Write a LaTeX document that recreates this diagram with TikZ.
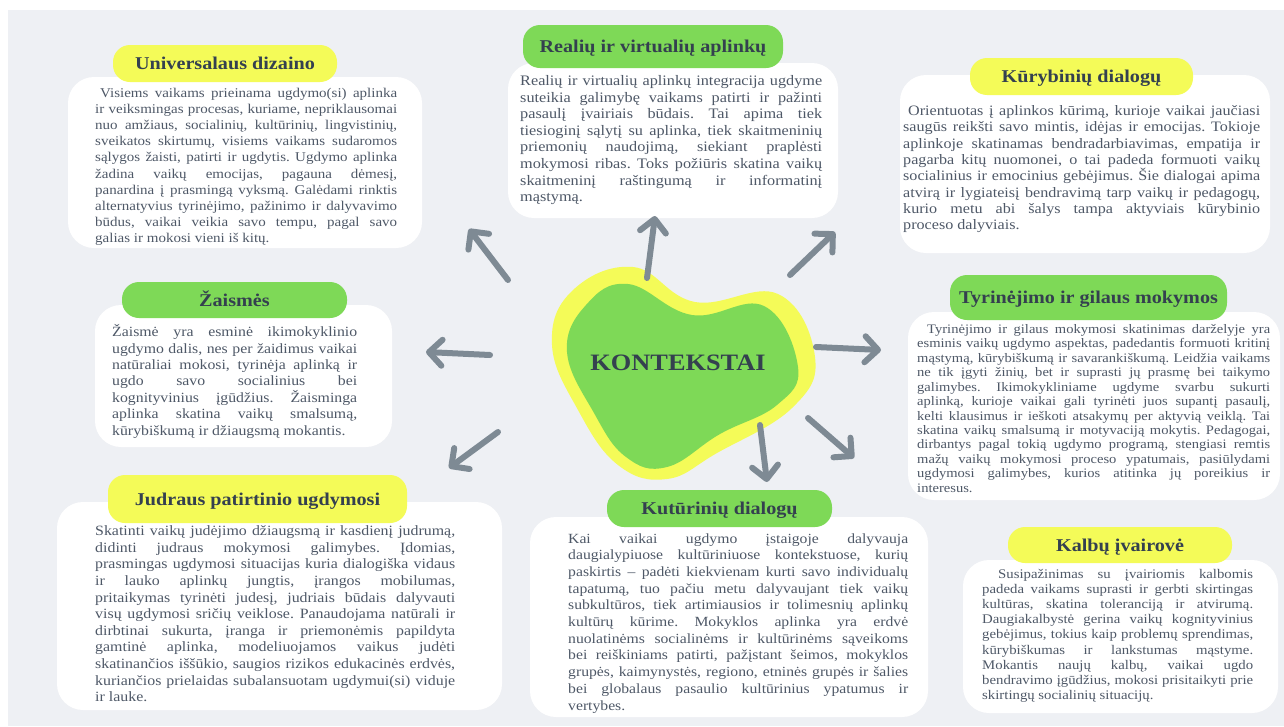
\documentclass[tikz,border=0pt]{standalone}
\usepackage{fontspec}
\setmainfont{Liberation Serif}[FakeStretch=1.12]
\usetikzlibrary{arrows.meta}
\definecolor{bgc}{HTML}{EEF0F4}
\definecolor{ylw}{HTML}{F4FB58}
\definecolor{grn}{HTML}{7ED957}
\definecolor{arrc}{HTML}{7E8A94}
\definecolor{txtc}{HTML}{4E5867}
\definecolor{ttlc}{HTML}{34404F}
\newcommand\fsz[2]{\fontsize{#1}{#2}\selectfont}
\frenchspacing
\hyphenpenalty=10000

\begin{document}
\begin{tikzpicture}[x=1pt, y=-1pt,
    panel/.style = {fill=white, rounded corners=26pt},% white text fields
     pill/.style = {rounded corners=17pt, inner sep=0pt, text=ttlc,
                    text height=12pt, text depth=0pt,
                    font=\bfseries\fsz{18}{20}},
    ypill/.style = {pill, fill=ylw},
    gpill/.style = {pill, fill=grn},
     body/.style = {anchor=base west, inner sep=0pt, text=txtc,
                    align=justify, text width=#1},
      arr/.style = {draw=arrc, line width=6pt, line cap=round,
                    -{Straight Barb[length=13pt,width=26pt,round]}},
                    ]
\useasboundingbox (0,0) rectangle (1284,726);
\fill[bgc] (8,10) rectangle (1284,726);
% white fields
\fill[panel] (68,77) rectangle (422,248);
\fill[panel] (508,63) rectangle (838,218);
\fill[panel] (900,75) rectangle (1270,253);
\fill[panel] (95,305) rectangle (392,447);
\fill[panel] (908,312) rectangle (1280,500);
\fill[panel] (57,502) rectangle (502,710);
\fill[panel] (530,517) rectangle (928,717);
\fill[panel] (963,560) rectangle (1278,713);
% titles
\node[ypill, minimum width=224pt, minimum height=37pt] (t-univ) at (225,63.5) {Universalaus dizaino};
\node[gpill, minimum width=260pt, minimum height=43pt] (t-real) at (653,46.5) {Realių ir virtualių aplinkų};
\node[ypill, minimum width=223pt, minimum height=37pt] (t-kur) at (1081.5,76.5) {Kūrybinių dialogų};
\node[gpill, minimum width=225pt, minimum height=36pt] (t-zais) at (234.5,300) {Žaismės};
\node[gpill, minimum width=277pt, minimum height=45pt] (t-tyr) at (1088.5,297.5) {Tyrinėjimo ir gilaus mokymos};
\node[ypill, minimum width=299pt, minimum height=48pt] (t-jud) at (257.5,499) {Judraus patirtinio ugdymosi};
\node[gpill, minimum width=225pt, minimum height=37pt] (t-kut) at (719.5,508.5) {Kutūrinių dialogų};
\node[ypill, minimum width=224pt, minimum height=36pt] (t-kalb) at (1120,545) {Kalbų įvairovė};
% texts
\node[body=302pt, font=\fsz{13.4}{16.2}] (b-univ) at (95,97) {\hspace*{5pt}Visiems vaikams prieinama ugdymo(si) aplinka\linebreak
ir veiksmingas procesas, kuriame, nepriklausomai\linebreak
nuo amžiaus, socialinių, kultūrinių, lingvistinių,\linebreak
sveikatos skirtumų, visiems vaikams sudaromos\linebreak
sąlygos žaisti, patirti ir ugdytis. Ugdymo aplinka\linebreak
žadina vaikų emocijas, pagauna dėmesį,\linebreak
panardina į prasmingą vyksmą. Galėdami rinktis\linebreak
alternatyvius tyrinėjimo, pažinimo ir dalyvavimo\linebreak
būdus, vaikai veikia savo tempu, pagal savo\linebreak
galias ir mokosi vieni iš kitų.};
\node[body=302pt, font=\fsz{14.5}{16.6}] (b-real) at (520,85.5) {Realių ir virtualių aplinkų integracija ugdyme\linebreak
suteikia galimybę vaikams patirti ir pažinti\linebreak
pasaulį įvairiais būdais. Tai apima tiek\linebreak
tiesioginį sąlytį su aplinka, tiek skaitmeninių\linebreak
priemonių naudojimą, siekiant praplėsti\linebreak
mokymosi ribas. Toks požiūris skatina vaikų\linebreak
skaitmeninį raštingumą ir informatinį\linebreak
mąstymą.};
\node[body=357pt, font=\fsz{14.4}{16.3}] (b-kur) at (903,115.5) {\hspace*{5pt}Orientuotas į aplinkos kūrimą, kurioje vaikai jaučiasi\linebreak
saugūs reikšti savo mintis, idėjas ir emocijas. Tokioje\linebreak
aplinkoje skatinamas bendradarbiavimas, empatija ir\linebreak
pagarba kitų nuomonei, o tai padeda formuoti vaikų\linebreak
socialinius ir emocinius gebėjimus. Šie dialogai apima\linebreak
atvirą ir lygiateisį bendravimą tarp vaikų ir pedagogų,\linebreak
kurio metu abi šalys tampa aktyviais kūrybinio\linebreak
proceso dalyviais.};
\node[body=245pt, font=\fsz{14.1}{16.4}] (b-zais) at (112,336.7) {Žaismė yra esminė ikimokyklinio\linebreak
ugdymo dalis, nes per žaidimus vaikai\linebreak
natūraliai mokosi, tyrinėja aplinką ir\linebreak
ugdo savo socialinius bei\linebreak
kognityvinius įgūdžius. Žaisminga\linebreak
aplinka skatina vaikų smalsumą,\linebreak
kūrybiškumą ir džiaugsmą mokantis.};
\node[body=353pt, font=\fsz{13.0}{14.45}] (b-tyr) at (917,333.3) {\hspace*{10pt}Tyrinėjimo ir gilaus mokymosi skatinimas darželyje yra\linebreak
esminis vaikų ugdymo aspektas, padedantis formuoti kritinį\linebreak
mąstymą, kūrybiškumą ir savarankiškumą. Leidžia vaikams\linebreak
ne tik įgyti žinių, bet ir suprasti jų prasmę bei taikymo\linebreak
galimybes. Ikimokykliniame ugdyme svarbu sukurti\linebreak
aplinką, kurioje vaikai gali tyrinėti juos supantį pasaulį,\linebreak
kelti klausimus ir ieškoti atsakymų per aktyvią veiklą. Tai\linebreak
skatina vaikų smalsumą ir motyvaciją mokytis. Pedagogai,\linebreak
dirbantys pagal tokią ugdymo programą, stengiasi remtis\linebreak
mažų vaikų mokymosi proceso ypatumais, pasiūlydami\linebreak
ugdymosi galimybes, kurios atitinka jų poreikius ir\linebreak
interesus.};
\node[body=360pt, font=\fsz{14.2}{16.6}] (b-jud) at (95,535.7) {Skatinti vaikų judėjimo džiaugsmą ir kasdienį judrumą,\linebreak
didinti judraus mokymosi galimybes. Įdomias,\linebreak
prasmingas ugdymosi situacijas kuria dialogiška vidaus\linebreak
ir lauko aplinkų jungtis, įrangos mobilumas,\linebreak
pritaikymas tyrinėti judesį, judriais būdais dalyvauti\linebreak
visų ugdymosi sričių veiklose. Panaudojama natūrali ir\linebreak
dirbtinai sukurta, įranga ir priemonėmis papildyta\linebreak
gamtinė aplinka, modeliuojamos vaikus judėti\linebreak
skatinančios iššūkio, saugios rizikos edukacinės erdvės,\linebreak
kuriančios prielaidas subalansuotam ugdymui(si) viduje\linebreak
ir lauke.};
\node[body=340pt, font=\fsz{14.0}{16.7}] (b-kut) at (568,543) {Kai vaikai ugdymo įstaigoje dalyvauja\linebreak
daugialypiuose kultūriniuose kontekstuose, kurių\linebreak
paskirtis – padėti kiekvienam kurti savo individualų\linebreak
tapatumą, tuo pačiu metu dalyvaujant tiek vaikų\linebreak
subkultūros, tiek artimiausios ir tolimesnių aplinkų\linebreak
kultūrų kūrime. Mokyklos aplinka yra erdvė\linebreak
nuolatinėms socialinėms ir kultūrinėms sąveikoms\linebreak
bei reiškiniams patirti, pažįstant šeimos, mokyklos\linebreak
grupės, kaimynystės, regiono, etninės grupės ir šalies\linebreak
bei globalaus pasaulio kultūrinius ypatumus ir\linebreak
vertybes.};
\node[body=271pt, font=\fsz{13.2}{15.2}] (b-kalb) at (982,578) {\hspace*{16pt}Susipažinimas su įvairiomis kalbomis\linebreak
padeda vaikams suprasti ir gerbti skirtingas\linebreak
kultūras, skatina toleranciją ir atvirumą.\linebreak
Daugiakalbystė gerina vaikų kognityvinius\linebreak
gebėjimus, tokius kaip problemų sprendimas,\linebreak
kūrybiškumas ir lankstumas mąstyme.\linebreak
Mokantis naujų kalbų, vaikai ugdo\linebreak
bendravimo įgūdžius, mokosi prisitaikyti prie\linebreak
skirtingų socialinių situacijų.};
% centre blob
\fill[ylw] plot[smooth cycle, tension=0.7] coordinates {(552,345) (572,291) (633,267) (695,302)
    (778,294) (815,357) (792,408) (717,453) (667,479) (618,465) (578,410)};
\fill[grn] plot[smooth cycle, tension=0.7] coordinates {(567,352) (586,305) (628,284) (692,315)
    (764,306) (798,367) (777,405) (720,434) (667,467) (626,457) (594,413)};
\node[font=\bfseries\fsz{23.5}{26}, text=ttlc] (ctx) at (678,363) {KONTEKSTAI};
% arrows
\coordinate (ul-s) at (508,280); \coordinate (ul-e) at (469,229);
\coordinate (up-s) at (647,278); \coordinate (up-e) at (655,216);
\coordinate (ur-s) at (790,275); \coordinate (ur-e) at (835,232);
\coordinate (lf-s) at (490,355); \coordinate (lf-e) at (426,352);
\coordinate (rt-s) at (816,347); \coordinate (rt-e) at (881,350);
\coordinate (dl-s) at (498,432); \coordinate (dl-e) at (449,468);
\coordinate (dn-s) at (760,425); \coordinate (dn-e) at (767,482);
\coordinate (dr-s) at (808,418); \coordinate (dr-e) at (854,458);
\foreach \n in {ul,up,ur,lf,rt,dl,dn,dr}
    \draw[arr] (\n-s) -- (\n-e);
\end{tikzpicture}
\end{document}
